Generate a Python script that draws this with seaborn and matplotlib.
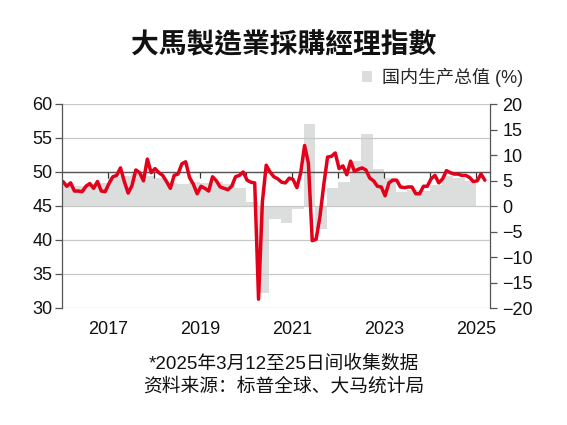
import pandas as pd
import matplotlib.pyplot as plt
import seaborn as sns

# Malaysia manufacturing PMI, monthly Jan 2016 - Mar 2025
pmi = [
    48.6, 47.9, 48.4, 47.2, 47.2, 47.1, 47.9, 48.3, 47.6, 48.6, 47.2, 47.1,  # 2016
    48.3, 49.3, 49.5, 50.6, 48.6, 46.9, 48.0, 50.3, 49.9, 48.7, 51.9, 49.9,  # 2017
    50.5, 49.9, 49.5, 48.6, 47.6, 49.5, 49.7, 51.2, 51.5, 49.2, 48.2, 46.8,  # 2018
    47.9, 47.6, 47.2, 49.3, 48.7, 47.8, 47.6, 47.4, 47.9, 49.3, 49.5, 50.0,  # 2019
    48.8, 48.5, 48.4, 31.3, 45.6, 51.0, 50.0, 49.3, 49.0, 48.5, 48.4, 49.1,  # 2020
    48.9, 47.7, 49.9, 53.9, 51.3, 39.9, 40.1, 43.4, 48.1, 52.2, 52.3, 52.8,  # 2021
    50.5, 50.9, 49.6, 51.6, 50.1, 50.4, 50.6, 50.3, 49.1, 48.7, 47.9, 47.8,  # 2022
    46.5, 48.4, 48.8, 48.8, 47.8, 47.7, 47.8, 47.8, 46.8, 46.8, 47.9, 47.9,  # 2023
    49.0, 49.5, 48.4, 49.0, 50.2, 49.9, 49.7, 49.7, 49.5, 49.5, 49.2, 48.6,  # 2024
    48.7, 49.7, 48.8,                                                        # 2025
]

# real GDP growth (%), quarterly 2016Q1 - 2024Q4
gdp = [
    4.2, 4.0, 4.3, 4.5,
    5.6, 5.8, 6.2, 5.9,
    5.4, 4.5, 4.4, 4.7,
    4.5, 4.8, 4.4, 3.6,
    0.7, -17.1, -2.6, -3.4,
    -0.5, 16.1, -4.5, 3.6,
    4.8, 8.9, 14.2, 7.2,
    5.5, 2.8, 3.2, 2.9,
    4.2, 5.9, 5.4, 5.0,
]

year_labels = ['2017', '2019', '2021', '2023', '2025']
title = '大馬製造業採購經理指數'
legend_label = '国内生产总值 (%)'
note_1 = '*2025年3月12至25日间收集数据'
note_2 = '资料来源：标普全球、大马统计局'

months = pd.date_range('2016-01-01', periods=len(pmi), freq='MS')
month_x = months.year + (months.month - 1) / 12 + 1 / 48
quarters = pd.date_range('2016-01-01', periods=len(gdp), freq='QS')
quarter_x = quarters.year + (quarters.month - 1) / 12

sns.set_theme(style='white')
plt.rcParams['font.family'] = ['Liberation Sans', 'Noto Sans CJK SC']
plt.rcParams['axes.unicode_minus'] = True

dark = '#555555'
fig = plt.figure(figsize=(5.67, 4.25), dpi=100)
ax = fig.add_axes([62 / 567, 1 - 308 / 425, 428 / 567, 204 / 425])
ax2 = ax.twinx()
ax.set_zorder(ax2.get_zorder() + 1)
ax.patch.set_visible(False)

# GDP bars on the right-hand scale
ax2.bar(quarter_x, gdp, width=0.25, align='edge', color='#dcdddd',
        linewidth=0, label=legend_label)
ax2.set_ylim(-20, 20)
ax2.set_yticks(range(-20, 21, 5))

# PMI line on the left-hand scale
sns.lineplot(x=month_x, y=pmi, ax=ax, color='#e2001a', linewidth=2.5)
ax.set_ylim(30, 60)
ax.set_yticks(range(30, 61, 5))
ax.set_xlim(2016, 2025.3)
ax.set_xticks([int(y) for y in year_labels])
ax.set_xticklabels(year_labels)
ax.grid(axis='y', color='#c8c8c8', linewidth=0.9)
ax.grid(axis='x', visible=False)
ax.set_xlabel('')
ax.set_ylabel('')

for a in (ax, ax2):
    for s in a.spines.values():
        s.set_visible(False)
ax.spines['left'].set_visible(True)
ax.spines['left'].set_color(dark)
ax.spines['left'].set_linewidth(0.9)
ax2.spines['right'].set_visible(True)
ax2.spines['right'].set_color(dark)
ax2.spines['right'].set_linewidth(0.9)

ax.tick_params(axis='y', left=True, length=5, width=0.9, color=dark, pad=2,
               labelsize=13, labelcolor='#111111')
ax2.tick_params(axis='y', right=True, length=5, width=0.9, color=dark, pad=4,
                labelsize=13, labelcolor='#111111')
ax.tick_params(axis='x', bottom=False, length=0, pad=9, labelsize=13,
               labelcolor='#111111')

# dark reference line at 50 with yearly ticks
ref = ax.secondary_xaxis((50 - 30) / 30)
ref.set_zorder(1.8)
ref.set_xticks(range(2017, 2026))
ref.tick_params(direction='in', length=4, width=0.9, color='#333333',
                labeltop=False, labelbottom=False)
for s in ref.spines.values():
    s.set_color(dark)
    s.set_linewidth(1.0)

handles, labels = ax2.get_legend_handles_labels()
fig.legend(handles, labels, loc='center right', bbox_to_anchor=(0.922, 1 - 77 / 425),
           frameon=False, fontsize=13, handlelength=0.55, handleheight=0.55,
           handletextpad=0.55, borderpad=0, borderaxespad=0)

fig.text(0.5, 1 - 45 / 425, title, ha='center', va='center', fontsize=20,
         fontweight='bold', family=['Noto Sans CJK TC'], color='#111111')
fig.text(0.5, 1 - 364 / 425, note_1, ha='center', va='center', fontsize=13.5,
         color='#111111')
fig.text(0.5, 1 - 387 / 425, note_2, ha='center', va='center', fontsize=13.5,
         color='#111111')

fig.savefig('out.png', dpi=100)
